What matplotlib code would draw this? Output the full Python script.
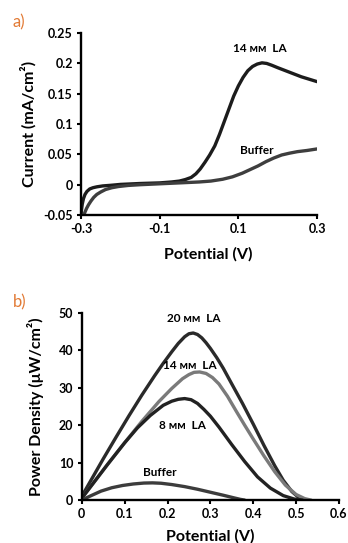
import matplotlib
matplotlib.use("Agg")
import matplotlib.pyplot as plt

plt.rcParams['font.family'] = ['Lato', 'DejaVu Sans']

# a) cyclic voltammetry, current (mA/cm2) vs potential (V)
cv_la_x = [-0.3, -0.299, -0.297, -0.294, -0.29, -0.285, -0.278, -0.27, -0.26, -0.245, -0.225,
           -0.2, -0.15, -0.1, -0.07, -0.05, -0.035, -0.02, -0.008, 0.003, 0.015, 0.027, 0.04,
           0.052, 0.064, 0.076, 0.088, 0.1, 0.112, 0.124, 0.136, 0.148, 0.16, 0.172, 0.185,
           0.2, 0.22, 0.24, 0.26, 0.28, 0.3]
cv_la_y = [-0.05, -0.042, -0.032, -0.023, -0.016, -0.011, -0.007, -0.005, -0.0035, -0.002, -0.001,
           0.0005, 0.002, 0.003, 0.0045, 0.006, 0.0085, 0.012, 0.018, 0.026, 0.037, 0.049, 0.064,
           0.083, 0.104, 0.125, 0.146, 0.163, 0.177, 0.188, 0.195, 0.199, 0.201, 0.2, 0.197,
           0.193, 0.188, 0.183, 0.178, 0.174, 0.170]
cv_buf_x = [-0.293, -0.29, -0.286, -0.281, -0.275, -0.268, -0.26, -0.25, -0.238, -0.222, -0.205,
            -0.18, -0.15, -0.1, -0.05, 0.0, 0.03, 0.06, 0.085, 0.11, 0.13, 0.15, 0.17, 0.19,
            0.21, 0.23, 0.25, 0.275, 0.3]
cv_buf_y = [-0.05, -0.045, -0.039, -0.033, -0.027, -0.021, -0.016, -0.012, -0.008, -0.005, -0.003,
            -0.0012, 0.0, 0.0015, 0.003, 0.0045, 0.006, 0.009, 0.013, 0.019, 0.025, 0.031, 0.038,
            0.044, 0.049, 0.052, 0.0545, 0.0565, 0.059]

# b) power density (uW/cm2) vs potential (V)
pd20_x = [0, 0.02, 0.05, 0.08, 0.11, 0.14, 0.17, 0.19, 0.21, 0.225, 0.24, 0.25, 0.26, 0.27,
          0.28, 0.29, 0.3, 0.315, 0.33, 0.35, 0.375, 0.4, 0.425, 0.45, 0.47, 0.49, 0.505, 0.52]
pd20_y = [1, 5, 11, 16.8, 22.5, 28, 33.2, 36.5, 39.6, 41.8, 43.6, 44.4, 44.6, 44.2,
          43.3, 42, 40.5, 38, 35.2, 31, 25.8, 20.3, 14.6, 9.2, 5.3, 2.3, 0.8, 0]
pd14_x = [0, 0.03, 0.06, 0.1, 0.14, 0.18, 0.21, 0.235, 0.25, 0.262, 0.275, 0.29, 0.305, 0.32,
          0.34, 0.36, 0.38, 0.4, 0.425, 0.45, 0.475, 0.5, 0.52, 0.535]
pd14_y = [0.5, 5, 9.5, 15.3, 21, 26.3, 29.8, 32.4, 33.5, 34.1, 34.2, 33.8, 32.7, 31,
          27.7, 23.8, 20, 16.3, 11.8, 7.6, 4, 1.5, 0.4, 0]
pd8_x = [0, 0.03, 0.06, 0.1, 0.13, 0.16, 0.19, 0.21, 0.225, 0.24, 0.255, 0.27, 0.285, 0.3,
         0.32, 0.35, 0.38, 0.41, 0.44, 0.47, 0.495, 0.515]
pd8_y = [0.5, 5, 9.5, 15.3, 19.3, 22.6, 25.3, 26.4, 26.9, 27.1, 26.8, 25.8, 24.2, 22.4,
         19.5, 14.8, 10.3, 6.2, 3.2, 1.2, 0.3, 0]
pdbuf_x = [0, 0.02, 0.045, 0.07, 0.095, 0.12, 0.145, 0.165, 0.185, 0.21, 0.24, 0.27, 0.3,
           0.33, 0.355, 0.37, 0.38]
pdbuf_y = [0, 1.1, 2.4, 3.3, 3.9, 4.3, 4.55, 4.6, 4.5, 4.15, 3.6, 2.9, 2.1,
           1.3, 0.6, 0.2, 0]

orange = '#e27b36'
lw = 2.4
tick_fs = 9
label_fs = 11.5
note_fs = 8.5

fig = plt.figure(figsize=(3.48, 5.43), dpi=100)
ax1 = fig.add_axes([0.233, 0.604, 0.678, 0.335])
ax2 = fig.add_axes([0.235, 0.079, 0.739, 0.345])


def style(ax):
    for s in ['top', 'right']:
        ax.spines[s].set_visible(False)
    for s in ['left', 'bottom']:
        ax.spines[s].set_linewidth(1.7)
        ax.spines[s].set_color('black')
    ax.tick_params(direction='out', length=3, width=1.5, labelsize=tick_fs, pad=3)
    for lab in ax.get_xticklabels() + ax.get_yticklabels():
        lab.set_fontweight('bold')


ax1.plot(cv_la_x, cv_la_y, color='#1c1c1c', lw=lw, solid_capstyle='round', solid_joinstyle='round')
ax1.plot(cv_buf_x, cv_buf_y, color='#3e3e3e', lw=lw, solid_capstyle='round', solid_joinstyle='round')
ax1.set_xlim(-0.3, 0.3)
ax1.set_ylim(-0.05, 0.25)
ax1.set_xticks([-0.3, -0.1, 0.1, 0.3])
ax1.set_xticklabels(['-0.3', '-0.1', '0.1', '0.3'])
ax1.set_yticks([-0.05, 0, 0.05, 0.1, 0.15, 0.2, 0.25])
ax1.set_yticklabels(['-0.05', '0', '0.05', '0.1', '0.15', '0.2', '0.25'])
style(ax1)
ax1.set_xlabel('Potential (V)', fontsize=label_fs, fontweight='bold')
ax1.set_ylabel('Current (mA/cm²)', fontsize=label_fs, fontweight='bold')
ax1.xaxis.set_label_coords(0.54, -0.175)
ax1.yaxis.set_label_coords(-0.19, 0.5)
ax1.text(0.155, 0.224, '14 ᴍᴍ  LA', fontsize=note_fs, fontweight='bold', ha='center', va='center')
ax1.text(0.147, 0.057, 'Buffer', fontsize=note_fs, fontweight='bold', ha='center', va='center')

for xs, ys, c in [(pd20_x, pd20_y, '#2a2a2a'), (pd14_x, pd14_y, '#7a7a7a'),
                  (pd8_x, pd8_y, '#222222'), (pdbuf_x, pdbuf_y, '#3c3c3c')]:
    ax2.plot(xs, ys, color=c, lw=lw, solid_capstyle='round', solid_joinstyle='round')
ax2.set_xlim(0, 0.6)
ax2.set_ylim(0, 50)
ax2.set_xticks([0, 0.1, 0.2, 0.3, 0.4, 0.5, 0.6])
ax2.set_xticklabels(['0', '0.1', '0.2', '0.3', '0.4', '0.5', '0.6'])
ax2.set_yticks([0, 10, 20, 30, 40, 50])
style(ax2)
ax2.set_xlabel('Potential (V)', fontsize=label_fs, fontweight='bold')
ax2.set_ylabel('Power Density (μW/cm²)', fontsize=label_fs, fontweight='bold')
ax2.xaxis.set_label_coords(0.5, -0.155)
ax2.yaxis.set_label_coords(-0.145, 0.5)
ax2.text(0.261, 48.6, '20 ᴍᴍ  LA', fontsize=note_fs, fontweight='bold', ha='center', va='center')
ax2.text(0.253, 36.0, '14 ᴍᴍ  LA', fontsize=note_fs, fontweight='bold', ha='center', va='center')
ax2.text(0.235, 19.8, '8 ᴍᴍ  LA', fontsize=note_fs, fontweight='bold', ha='center', va='center')
ax2.text(0.183, 7.5, 'Buffer', fontsize=note_fs, fontweight='bold', ha='center', va='center')

fig.text(0.037, 0.95, 'a)', color=orange, fontsize=12)
fig.text(0.037, 0.434, 'b)', color=orange, fontsize=12)

fig.savefig('out.png', dpi=100)
